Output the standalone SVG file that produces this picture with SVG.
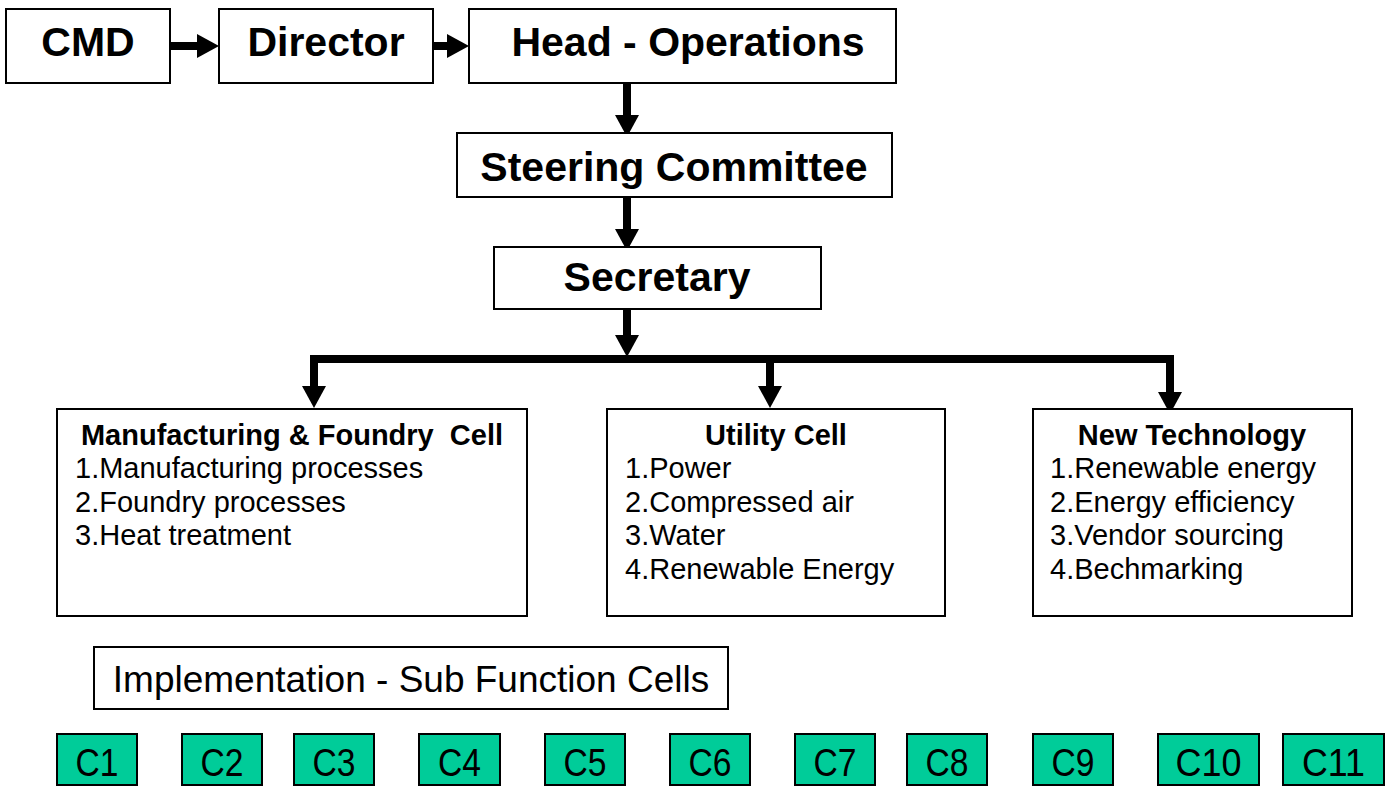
<svg xmlns="http://www.w3.org/2000/svg" width="1387" height="786" viewBox="0 0 1387 786">
<style>
.box{fill:#fff;stroke:#000;stroke-width:2}
.cbox{fill:#00CC99;stroke:#000;stroke-width:2}
.big{font-family:"Liberation Sans",Arial,sans-serif;font-weight:bold;font-size:41px;fill:#000;text-anchor:middle}
.ttl{font-family:"Liberation Sans",Arial,sans-serif;font-weight:bold;font-size:29px;fill:#000;text-anchor:middle;white-space:pre}
.item{font-family:"Liberation Sans",Arial,sans-serif;font-size:29px;fill:#000}
.impl{font-family:"Liberation Sans",Arial,sans-serif;font-size:37px;fill:#000;text-anchor:middle}
.ct{font-family:"Liberation Sans",Arial,sans-serif;font-size:39px;fill:#000;text-anchor:middle}
.conn{fill:none;stroke:#000;stroke-width:8;stroke-linejoin:miter}
</style>
<defs>
<marker id="ah" markerUnits="userSpaceOnUse" markerWidth="24" markerHeight="26" viewBox="0 -13 23 26" refX="0" refY="0" orient="auto">
<path d="M0,-12 L22,0 L0,12 Z" fill="#000"/>
</marker>
<clipPath id="cclip"><rect x="0" y="730" width="1387" height="47"/></clipPath>
</defs>

<g id="connectors">
<line class="conn" x1="170" y1="46" x2="197" y2="46" marker-end="url(#ah)"/>
<line class="conn" x1="433" y1="46" x2="447" y2="46" marker-end="url(#ah)"/>
<line class="conn" x1="627" y1="83" x2="627" y2="115" marker-end="url(#ah)"/>
<line class="conn" x1="627" y1="197" x2="627" y2="229" marker-end="url(#ah)"/>
<line class="conn" x1="627" y1="309" x2="627" y2="335" marker-end="url(#ah)"/>
<path class="conn" d="M314,359 H1170"/>
<line class="conn" x1="314" y1="355" x2="314" y2="386" marker-end="url(#ah)"/>
<line class="conn" x1="770" y1="359" x2="770" y2="386" marker-end="url(#ah)"/>
<line class="conn" x1="1170" y1="355" x2="1170" y2="392" marker-end="url(#ah)"/>
</g>

<g id="cmd">
<rect class="box" x="6" y="9" width="164" height="74"/>
<text class="big" x="88" y="56">CMD</text>
</g>
<g id="director">
<rect class="box" x="219" y="9" width="214" height="74"/>
<text class="big" x="326" y="56">Director</text>
</g>
<g id="head-operations">
<rect class="box" x="469" y="9" width="427" height="74"/>
<text class="big" x="688" y="56">Head - Operations</text>
</g>
<g id="steering-committee">
<rect class="box" x="457" y="133" width="435" height="64"/>
<text class="big" x="674" y="181">Steering Committee</text>
</g>
<g id="secretary">
<rect class="box" x="494" y="247" width="327" height="62"/>
<text class="big" x="657" y="291">Secretary</text>
</g>

<g id="manufacturing-cell">
<rect class="box" x="57" y="409" width="470" height="207"/>
<text class="ttl" x="292" y="445" xml:space="preserve">Manufacturing &amp; Foundry  Cell</text>
<text class="item" x="75" y="478">1.Manufacturing processes</text>
<text class="item" x="75" y="512">2.Foundry processes</text>
<text class="item" x="75" y="545">3.Heat treatment</text>
</g>
<g id="utility-cell">
<rect class="box" x="607" y="409" width="338" height="207"/>
<text class="ttl" x="776" y="445">Utility Cell</text>
<text class="item" x="625" y="478">1.Power</text>
<text class="item" x="625" y="512">2.Compressed air</text>
<text class="item" x="625" y="545">3.Water</text>
<text class="item" x="625" y="579">4.Renewable Energy</text>
</g>
<g id="new-technology">
<rect class="box" x="1033" y="409" width="319" height="207"/>
<text class="ttl" x="1192" y="445">New Technology</text>
<text class="item" x="1050" y="478">1.Renewable energy</text>
<text class="item" x="1050" y="512">2.Energy efficiency</text>
<text class="item" x="1050" y="545">3.Vendor sourcing</text>
<text class="item" x="1050" y="579">4.Bechmarking</text>
</g>

<g id="implementation">
<rect class="box" x="94" y="647" width="634" height="62"/>
<text class="impl" x="411" y="692">Implementation - Sub Function Cells</text>
</g>

<g id="c1"><rect class="cbox" x="57" y="734" width="80" height="51"/><text class="ct" x="97" y="776" clip-path="url(#cclip)" textLength="43" lengthAdjust="spacingAndGlyphs">C1</text></g>
<g id="c2"><rect class="cbox" x="182" y="734" width="80" height="51"/><text class="ct" x="222" y="776" clip-path="url(#cclip)" textLength="43" lengthAdjust="spacingAndGlyphs">C2</text></g>
<g id="c3"><rect class="cbox" x="294" y="734" width="80" height="51"/><text class="ct" x="334" y="776" clip-path="url(#cclip)" textLength="43" lengthAdjust="spacingAndGlyphs">C3</text></g>
<g id="c4"><rect class="cbox" x="419" y="734" width="81" height="51"/><text class="ct" x="459.5" y="776" clip-path="url(#cclip)" textLength="43" lengthAdjust="spacingAndGlyphs">C4</text></g>
<g id="c5"><rect class="cbox" x="545" y="734" width="80" height="51"/><text class="ct" x="585" y="776" clip-path="url(#cclip)" textLength="43" lengthAdjust="spacingAndGlyphs">C5</text></g>
<g id="c6"><rect class="cbox" x="670" y="734" width="80" height="51"/><text class="ct" x="710" y="776" clip-path="url(#cclip)" textLength="43" lengthAdjust="spacingAndGlyphs">C6</text></g>
<g id="c7"><rect class="cbox" x="795" y="734" width="80" height="51"/><text class="ct" x="835" y="776" clip-path="url(#cclip)" textLength="43" lengthAdjust="spacingAndGlyphs">C7</text></g>
<g id="c8"><rect class="cbox" x="907" y="734" width="80" height="51"/><text class="ct" x="947" y="776" clip-path="url(#cclip)" textLength="43" lengthAdjust="spacingAndGlyphs">C8</text></g>
<g id="c9"><rect class="cbox" x="1033" y="734" width="80" height="51"/><text class="ct" x="1073" y="776" clip-path="url(#cclip)" textLength="43" lengthAdjust="spacingAndGlyphs">C9</text></g>
<g id="c10"><rect class="cbox" x="1158" y="734" width="101" height="51"/><text class="ct" x="1208.5" y="776" clip-path="url(#cclip)" textLength="66" lengthAdjust="spacingAndGlyphs">C10</text></g>
<g id="c11"><rect class="cbox" x="1283" y="734" width="101" height="51"/><text class="ct" x="1333.5" y="776" clip-path="url(#cclip)" textLength="63" lengthAdjust="spacingAndGlyphs">C11</text></g>
</svg>
